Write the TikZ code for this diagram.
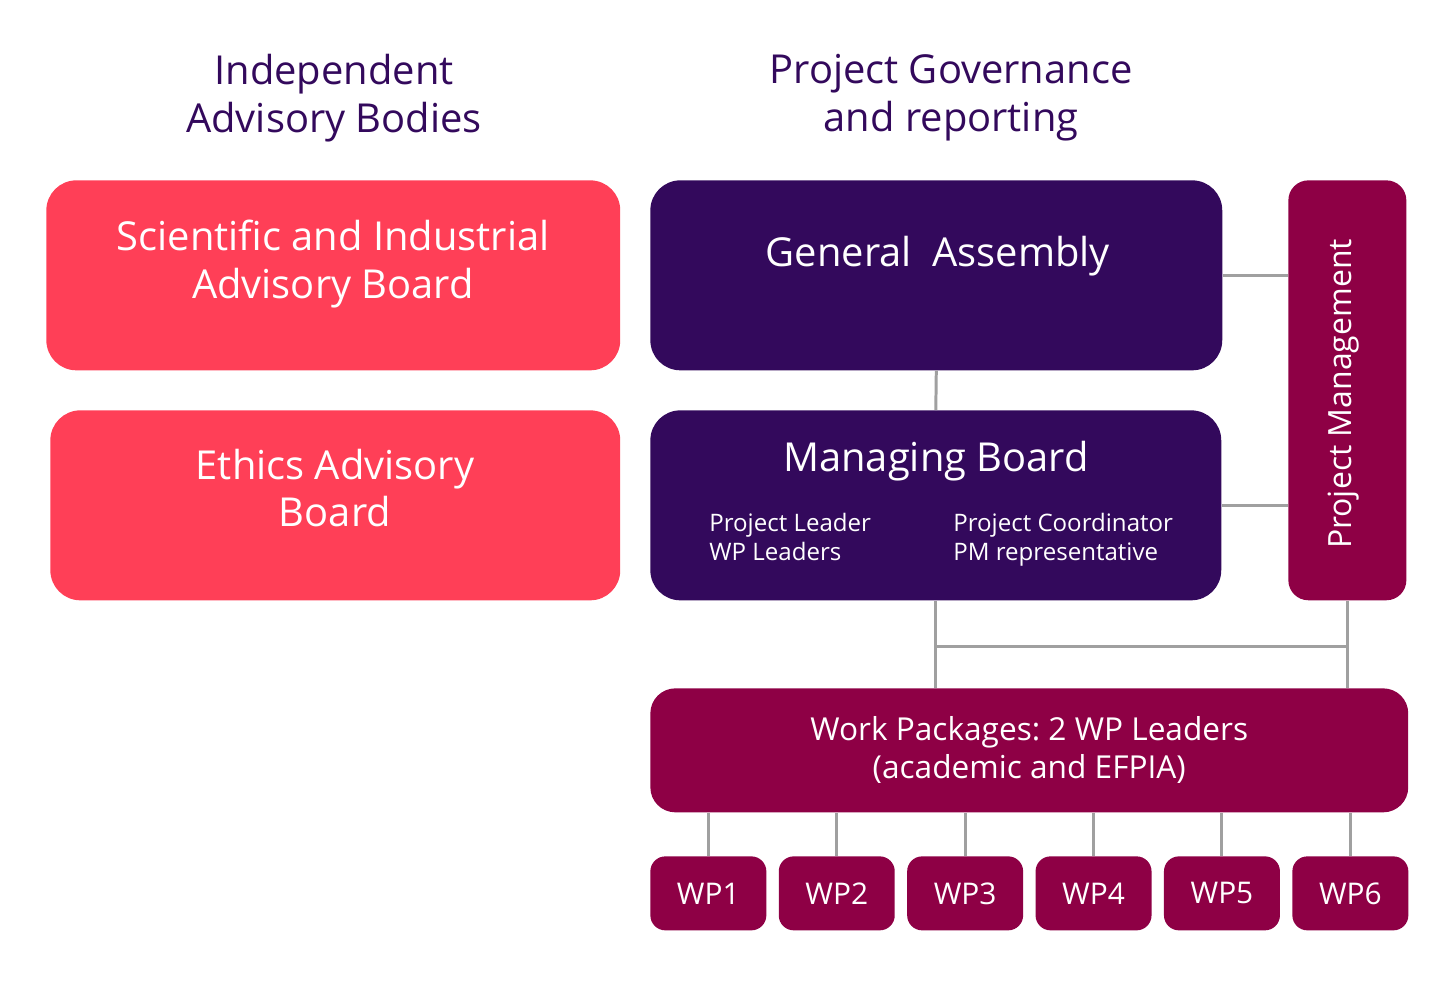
\documentclass[tikz,border=0pt]{standalone}
\usepackage{fontspec}
\setmainfont{Open Sans}
\usepackage{tikz}
\usetikzlibrary{calc}
\definecolor{advred}{HTML}{FF3F57}
\definecolor{govpurple}{HTML}{33095C}
\definecolor{wpcrimson}{HTML}{8E0045}
\definecolor{linkgray}{HTML}{A0A0A0}
\frenchspacing
\begin{document}
\begin{tikzpicture}[x=0.02cm,y=-0.02cm,
	box/.style={anchor=north west,inner sep=0pt,rounded corners=0.6cm},
	redbox/.style={box,fill=advred},
	purplebox/.style={box,fill=govpurple},
	wpbox/.style={box,fill=wpcrimson,text=white,rounded corners=0.3cm,minimum width=2.32cm,minimum height=1.48cm,font=\fontsize{17}{20}\selectfont},
	head/.style={align=center,text=govpurple,font=\fontsize{22.7}{27.2}\selectfont},
	boxtext/.style={align=center,text=white,font=\fontsize{22.7}{27.2}\selectfont},
	smalltext/.style={align=left,text=white,anchor=base west,inner sep=0pt,font=\fontsize{13.7}{16.4}\selectfont},
	link/.style={draw=linkgray,line width=1.7pt}]
\useasboundingbox (0,0) rectangle (1446,980);

% headings
\node[head] (hadv) at (334,98) {Independent\\Advisory Bodies};
\node[head] (hgov) at (951,98) {Project Governance\\and reporting};

% advisory bodies
\node[redbox,minimum width=11.48cm,minimum height=3.8cm] (siab) at (46,180) {};
\node[boxtext] (siabtxt) at (333,264) {Scientific and Industrial\\Advisory Board};
\node[redbox,minimum width=11.4cm,minimum height=3.8cm] (eab) at (50,410) {};
\node[boxtext] (eabtxt) at (335,488) {Ethics Advisory\\Board};

% governance
\node[purplebox,minimum width=11.44cm,minimum height=3.8cm] (ga) at (650,180) {};
\node[boxtext] (gatxt) at (938,256) {General\ \ Assembly};
\node[purplebox,minimum width=11.42cm,minimum height=3.8cm] (mb) at (650,410) {};
\node[boxtext] (mbtxt) at (936,461) {Managing Board};
\node[smalltext] (mbleft) at (709,560) {Project Leader\\WP Leaders};
\node[smalltext] (mbright) at (953,560) {Project Coordinator\\PM representative};

\node[box,fill=wpcrimson,rounded corners=0.4cm,minimum width=2.36cm,minimum height=8.4cm] (pm) at (1288,180) {};
\node[boxtext,rotate=90,font=\fontsize{18.2}{22}\selectfont] (pmtxt) at (1344,394) {Project Management};

\node[box,fill=wpcrimson,rounded corners=0.5cm,minimum width=15.16cm,minimum height=2.48cm,
	boxtext,font=\fontsize{18}{21.5}\selectfont] (wpk) at (650,688) {Work Packages: 2 WP Leaders\\(academic and EFPIA)};

% work packages
\foreach \i in {1,...,6}
	\node[wpbox] (wp\i) at ({650+(\i-1)*128.4},856) {WP\i};

% connectors
\coordinate (jn) at (0,646);
\draw[link] (ga.south) -- (mb.north);
\draw[link] (ga.east) -- (ga.east -| pm.west);
\draw[link] (mb.east) -- (mb.east -| pm.west);
\draw[link] (mb.south) -- (mb.south |- wpk.north);
\draw[link] (pm.south) -- (pm.south |- wpk.north);
\draw[link] (mb.south |- jn) -- (pm.south |- jn);
\foreach \i in {1,...,6}
	\draw[link] (wp\i.north) -- (wp\i.north |- wpk.south);
\end{tikzpicture}
\end{document}
